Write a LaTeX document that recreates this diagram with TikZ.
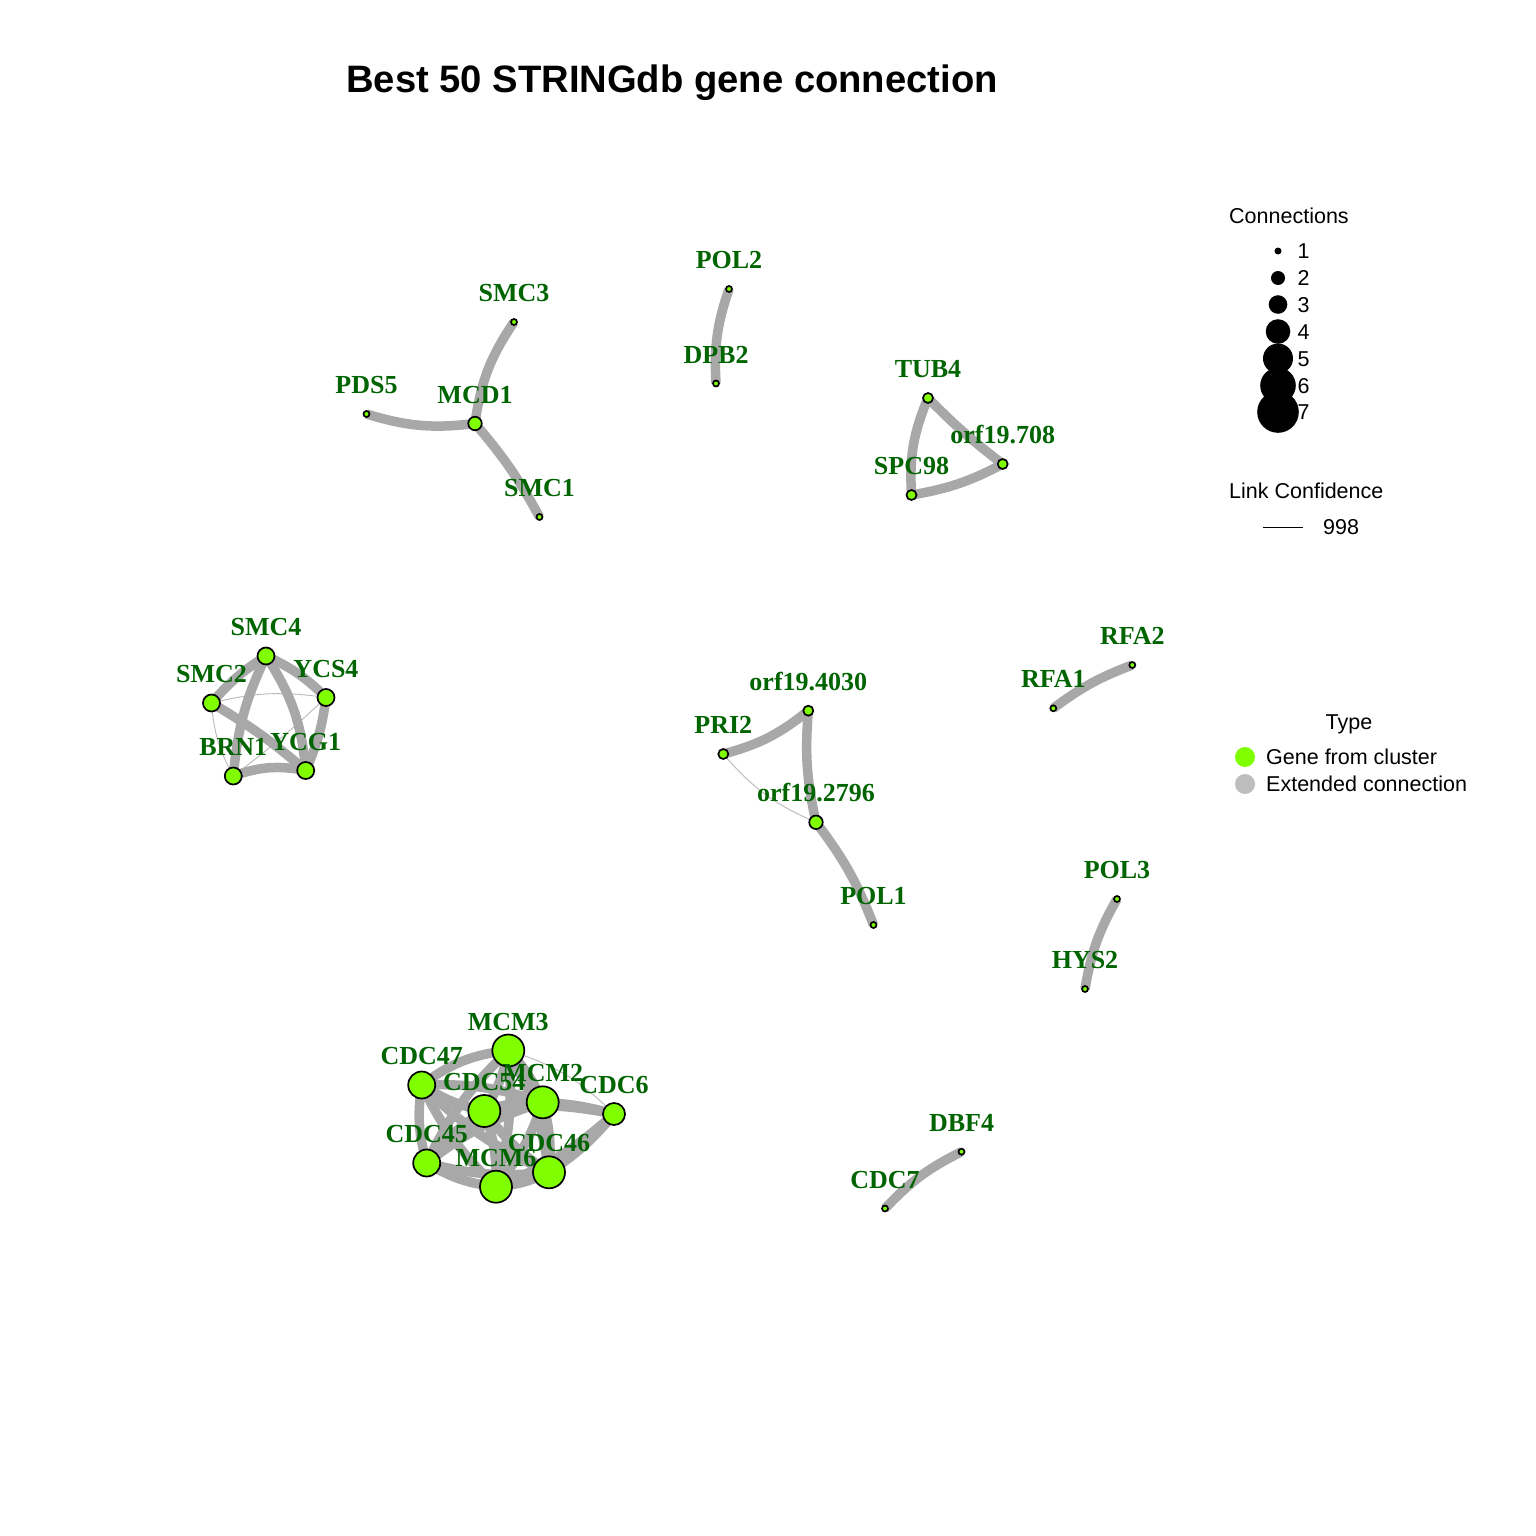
\documentclass[tikz,border=0pt]{standalone}
\usepackage{fontspec}
\setmainfont{Liberation Sans}
\newfontfamily\lblfamily{Liberation Serif}
\definecolor{chart}{RGB}{127,255,0}
\definecolor{edgegray}{RGB}{168,168,168}
\definecolor{weakgray}{RGB}{185,185,185}
\definecolor{lblgreen}{RGB}{0,100,0}
\definecolor{legray}{RGB}{190,190,190}
\pgfdeclarelayer{bglayer}
\pgfdeclarelayer{edgelayer}
\pgfsetlayers{bglayer,edgelayer,main}
\tikzset{
  vl/.style={bend left=#1},
  vr/.style={bend right=#1},
  gene/.style={circle, draw=black, line width=1.7pt, fill=chart, inner sep=0pt, minimum size=#1},
  strong/.style={draw=edgegray, line width=9.5pt},
  weak/.style={draw=weakgray, line width=0.9pt},
  lbl/.style={text=lblgreen, font=\lblfamily\fontsize{26}{26}\bfseries\selectfont, anchor=base, inner sep=0pt},
  legtxt/.style={font=\fontsize{21.5}{21.5}\selectfont, anchor=base west, inner sep=0pt},
  legdot/.style={circle, fill=black, inner sep=0pt, minimum size=#1},
}
\newcommand{\gn}[5]{% name, x, y, diameter, label
  \node[gene=#4] (#1) at (#2,#3) {};
  \node[lbl] (#1-l) at (#2,#3-20.5) {#5};
}
\begin{document}
\begin{tikzpicture}[x=1pt,y=-1pt]
\useasboundingbox (0,0) rectangle (1536,1536);
\begin{pgfonlayer}{bglayer}
\fill[white] (0,0) rectangle (1536,1536);
\end{pgfonlayer}

\node[font=\fontsize{38.2}{38.2}\bfseries\selectfont, anchor=base, inner sep=0pt] (title) at (672,93) {Best 50 STRINGdb gene connection};

% nodes
\gn{SMC3}{514}{322}{6}{SMC3}
\gn{PDS5}{366.5}{414}{6}{PDS5}
\gn{MCD1}{475}{423.5}{13.5}{MCD1}
\gn{SMC1}{539.5}{517}{6}{SMC1}
\gn{POL2}{729}{289}{6}{POL2}
\gn{DPB2}{716}{383.5}{6}{DPB2}
\gn{TUB4}{928}{398}{10}{TUB4}
\gn{O708}{1002.7}{464}{10}{orf19.708}
\gn{SPC98}{911.5}{495}{10}{SPC98}
\gn{SMC4}{266}{656}{17}{SMC4}
\gn{SMC2}{211.5}{703}{17}{SMC2}
\gn{YCS4}{326}{697.5}{17}{YCS4}
\gn{BRN1}{233.3}{776}{17}{BRN1}
\gn{YCG1}{305.7}{770.5}{17}{YCG1}
\gn{O4030}{808.3}{710.7}{10}{orf19.4030}
\gn{PRI2}{723.3}{754}{10}{PRI2}
\gn{O2796}{816}{822.3}{13.5}{orf19.2796}
\gn{POL1}{873.5}{925}{6}{POL1}
\gn{RFA2}{1132.3}{665}{6}{RFA2}
\gn{RFA1}{1053.3}{708.3}{6}{RFA1}
\gn{POL3}{1117}{899}{6}{POL3}
\gn{HYS2}{1085}{989}{6}{HYS2}
\gn{DBF4}{961.5}{1151.7}{6}{DBF4}
\gn{CDC7}{885}{1208.5}{6}{CDC7}
\gn{MCM3}{508.3}{1050.5}{32}{MCM3}
\gn{CDC47}{421.7}{1085}{27}{CDC47}
\gn{CDC54}{484.3}{1111}{32}{CDC54}
\gn{MCM2}{542.7}{1102.3}{32}{MCM2}
\gn{CDC6}{614}{1114}{22}{CDC6}
\gn{CDC45}{426.7}{1163}{27}{CDC45}
\gn{MCM6}{496}{1186.7}{32}{MCM6}
\gn{CDC46}{549}{1172.3}{32}{CDC46}

% edges
\begin{pgfonlayer}{edgelayer}
\draw[strong] (MCD1.center) to[vl=13] (SMC3.center);
\draw[strong] (PDS5.center) to[vr=12] (MCD1.center);
\draw[strong] (MCD1.center) to[vl=6] (SMC1.center);
\draw[strong] (POL2.center) to[vr=11] (DPB2.center);
\draw[strong] (TUB4.center) to[vr=13] (SPC98.center);
\draw[strong] (TUB4.center) to[vr=4] (O708.center);
\draw[strong] (SPC98.center) to[vr=9] (O708.center);
% SMC complex
\draw[weak] (SMC2.center) to[vl=11] (YCS4.center);
\draw[weak] (SMC2.center) to[vr=12] (BRN1.center);
\draw[weak] (BRN1.center) to[vr=3] (YCS4.center);
\draw[strong] (SMC2.center) to[vl=8] (SMC4.center);
\draw[strong] (SMC4.center) to[vl=10] (YCS4.center);
\draw[strong] (SMC4.center) to[vr=10] (BRN1.center);
\draw[strong] (SMC4.center) to[vl=14] (YCG1.center);
\draw[strong] (YCS4.center) to[vl=8] (YCG1.center);
\draw[strong] (SMC2.center) to[vl=5] (YCG1.center);
\draw[strong] (BRN1.center) to[vl=15] (YCG1.center);
% PRI2 group
\draw[weak] (PRI2.center) to[vr=13] (O2796.center);
\draw[strong] (PRI2.center) to[vr=12] (O4030.center);
\draw[strong] (O4030.center) to[vr=8.5] (O2796.center);
\draw[strong] (O2796.center) to[vl=8] (POL1.center);
\draw[strong] (RFA1.center) to[vl=8] (RFA2.center);
\draw[strong] (POL3.center) to[vr=10] (HYS2.center);
\draw[strong] (DBF4.center) to[vr=10] (CDC7.center);
% MCM complex
\draw[weak] (MCM3.center) to[vl=14] (CDC6.center);
\draw[strong] (CDC47.center) to[vl=15] (MCM3.center);
\draw[strong] (CDC6.center) to[vl=8] (CDC46.center);
\draw[strong] (CDC46.center) to[vl=10] (MCM6.center);
\draw[strong] (MCM6.center) to[vl=12] (CDC45.center);
\draw[strong] (CDC45.center) to[vl=12] (CDC47.center);
\draw[strong] (MCM3.center) to[vl=10] (CDC54.center);
\draw[strong] (MCM3.center) to[vl=10] (MCM2.center);
\draw[strong] (MCM3.center) to[vr=10] (CDC45.center);
\draw[strong] (MCM3.center) to[vl=10] (MCM6.center);
\draw[strong] (MCM3.center) to[vl=10] (CDC46.center);
\draw[strong] (CDC47.center) to[vr=10] (CDC54.center);
\draw[strong] (CDC47.center) to[vl=10] (MCM2.center);
\draw[strong] (CDC47.center) to[vr=10] (MCM6.center);
\draw[strong] (CDC47.center) to[vr=10] (CDC46.center);
\draw[strong] (CDC54.center) to[vl=10] (MCM2.center);
\draw[strong] (CDC54.center) to[vl=10] (CDC6.center);
\draw[strong] (CDC54.center) to[vr=10] (CDC45.center);
\draw[strong] (CDC54.center) to[vl=10] (MCM6.center);
\draw[strong] (CDC54.center) to[vr=10] (CDC46.center);
\draw[strong] (MCM2.center) to[vl=6] (CDC6.center);
\draw[strong] (MCM2.center) to[vr=10] (CDC45.center);
\draw[strong] (MCM2.center) to[vl=10] (MCM6.center);
\draw[strong] (MCM2.center) to[vl=10] (CDC46.center);
\draw[strong] (CDC6.center) to[vl=10] (MCM6.center);
\draw[strong] (CDC45.center) to[vr=10] (CDC46.center);
\end{pgfonlayer}

% legend: Connections
\node[legtxt] (conn) at (1229,223) {Connections};
\node[legdot=7] (d1) at (1278,251) {};
\node[legdot=14] (d2) at (1278,278) {};
\node[legdot=18.6] (d3) at (1278,304.5) {};
\node[legdot=24.6] (d4) at (1278,331.5) {};
\node[legdot=30] (d5) at (1278,358.5) {};
\node[legdot=35.6] (d6) at (1278,385.5) {};
\node[legdot=41.6] (d7) at (1278,412) {};
\node[legtxt] (n1) at (1297.5,258.7) {1};
\node[legtxt] (n2) at (1297.5,285.7) {2};
\node[legtxt] (n3) at (1297.5,312.2) {3};
\node[legtxt] (n4) at (1297.5,339.2) {4};
\node[legtxt] (n5) at (1297.5,366.2) {5};
\node[legtxt] (n6) at (1297.5,393.2) {6};
\node[legtxt] (n7) at (1297.5,419.7) {7};
% legend: Link Confidence
\node[legtxt] (lc) at (1229,498.7) {Link Confidence};
\coordinate (lcA) at (1263,527);
\coordinate (lcB) at (1303,527);
\draw[black, line width=0.8pt] (lcA) -- (lcB);
\node[legtxt] (lcv) at (1323,534.7) {998};
% legend: Type
\node[font=\fontsize{21.5}{21.5}\selectfont, anchor=base, inner sep=0pt] (typ) at (1349,729.7) {Type};
\node[circle, fill=chart, inner sep=0pt, minimum size=20] (t1) at (1245,757) {};
\node[circle, fill=legray, inner sep=0pt, minimum size=20] (t2) at (1245,784) {};
\node[legtxt] (t1l) at (1266,764.7) {Gene from cluster};
\node[legtxt] (t2l) at (1266,791.7) {Extended connection};
\end{tikzpicture}
\end{document}
